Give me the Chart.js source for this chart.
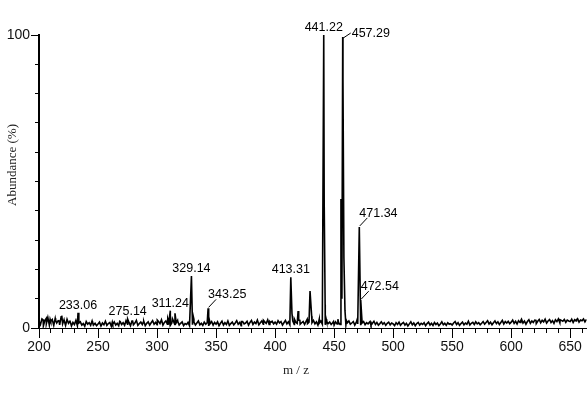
<!DOCTYPE html>
<html>
<head>
<meta charset="utf-8">
<title>Mass spectrum</title>
<script src="https://cdn.jsdelivr.net/npm/chart.js@4.4.1/dist/chart.umd.min.js"></script>
<style>
  html, body { margin: 0; padding: 0; background: #fff; }
  #wrap { width: 588px; height: 398px; }
</style>
</head>
<body>
<div id="wrap"><canvas id="c" width="588" height="398"></canvas></div>
<script>
// x range and ticks
var xMin = 200, xMax = 664;
var yTicksShown = [0, 100];

// baseline noise, one reading every 1.25 m/z from 200 (20 per row = 25 m/z)
var noiseStart = 200, noiseStep = 1.25;
var noiseAbund = [
  2.4, 1.2, 3.1, 0.8, 2.6, 1.5, 3.6, 1.0, 2.2, 2.9, 0.9, 3.3, 1.7, 2.5, 1.1, 3.8, 1.4, 2.7, 0.9, 3.0,
  1.6, 2.3, 0.7, 1.9, 1.2, 2.6, 0.8, 1.7, 2.1, 1.0, 1.5, 0.6, 2.2, 1.3, 1.8, 0.9, 2.4, 1.1, 1.6, 0.8,
  1.4, 2.0, 0.7, 1.7, 1.1, 2.3, 0.9, 1.5, 1.9, 0.6, 1.3, 2.1, 1.0, 1.6, 0.8, 2.2, 1.2, 1.8, 0.9, 2.5,
  1.3, 1.9, 0.8, 2.4, 1.1, 1.7, 2.6, 0.9, 1.5, 2.0, 1.2, 2.3, 0.8, 1.6, 2.1, 1.0, 1.8, 2.5, 1.3, 1.9,
  1.1, 2.2, 1.5, 2.8, 1.0, 1.9, 2.4, 1.3, 2.0, 0.9, 1.7, 2.5, 1.2, 1.8, 2.3, 1.0, 1.6, 2.1, 0.8, 1.5,
  1.2, 1.9, 0.8, 2.2, 1.4, 2.0, 1.0, 1.7, 2.4, 1.1, 1.6, 0.9, 2.0, 1.3, 1.8, 0.7, 1.5, 2.2, 1.0, 1.9,
  1.3, 2.1, 0.8, 1.6, 2.3, 1.0, 1.8, 1.2, 2.4, 0.9, 1.5, 2.0, 1.1, 1.7, 2.5, 1.3, 1.9, 0.8, 2.2, 1.4,
  1.7, 2.3, 1.0, 1.9, 2.6, 1.2, 2.0, 1.5, 2.7, 1.1, 1.8, 2.4, 1.3, 2.1, 1.6, 2.8, 1.2, 1.9, 2.3, 1.4,
  2.0, 1.3, 2.5, 1.7, 2.2, 1.0, 1.8, 2.6, 1.4, 2.1, 1.1, 1.9, 2.4, 1.2, 2.0, 1.6, 2.7, 1.3, 1.8, 2.2,
  1.2, 2.3, 1.5, 2.0, 1.1, 1.8, 2.6, 1.4, 2.1, 1.0, 1.7, 2.4, 1.3, 1.9, 1.1, 2.2, 1.5, 2.0, 1.2, 1.8,
  1.0, 2.1, 1.4, 1.9, 1.2, 2.3, 1.6, 2.0, 1.1, 1.8, 2.4, 1.3, 1.7, 2.2, 1.0, 1.9, 1.4, 2.1, 1.2, 1.7,
  2.2, 1.1, 1.8, 1.4, 2.0, 0.9, 1.6, 2.3, 1.2, 1.9, 1.0, 1.5, 2.1, 1.3, 1.8, 0.9, 1.6, 2.0, 1.1, 1.7,
  1.4, 0.8, 1.8, 1.2, 2.0, 0.9, 1.5, 1.9, 1.0, 1.6, 0.7, 1.4, 2.1, 1.1, 1.7, 0.8, 1.5, 1.9, 1.0, 1.6,
  1.2, 1.8, 0.8, 1.5, 2.0, 1.0, 1.6, 0.9, 1.9, 1.2, 1.7, 0.8, 1.4, 2.1, 1.1, 1.6, 0.9, 1.8, 1.3, 1.5,
  1.0, 1.7, 2.2, 1.2, 1.8, 0.9, 1.5, 2.0, 1.1, 1.7, 1.3, 2.3, 1.0, 1.6, 1.9, 1.2, 2.1, 1.4, 1.8, 1.1,
  1.6, 2.2, 1.3, 1.9, 2.5, 1.4, 2.0, 1.1, 1.8, 2.4, 1.5, 2.1, 1.2, 1.9, 2.6, 1.4, 2.2, 1.7, 2.3, 1.5,
  2.0, 2.7, 1.6, 2.3, 1.4, 2.5, 1.9, 3.0, 1.7, 2.4, 1.3, 2.2, 2.8, 1.6, 2.4, 1.9, 2.7, 1.5, 2.3, 2.9,
  1.8, 2.6, 2.1, 3.0, 1.7, 2.4, 2.9, 1.9, 2.5, 1.6, 2.8, 2.2, 3.1, 1.8, 2.6, 2.3, 2.9, 1.9, 2.7, 2.4,
  2.2, 3.0, 1.9, 2.8, 2.4, 3.2, 2.0, 2.7, 2.5, 3.1, 2.1, 2.9
];

// peaks
var peakMz = [203.5, 206.2, 209.4, 214.1, 217.0, 219.3, 221.2, 226.4, 233.06, 245.3,
  262.1, 268.4, 275.14, 279.3, 288.6, 300.2, 309.1, 311.24, 313.0, 315.2,
  317.4, 329.14, 330.1, 331.2, 343.25, 344.2, 371.5, 390.2, 395.6, 413.31,
  414.3, 416.4, 419.5, 421.0, 427.2, 429.6, 431.0, 437.4, 441.22, 441.6,
  442.4, 443.3, 449.5, 453.2, 455.8, 456.6, 457.29, 457.5, 458.3, 459.2,
  460.5, 469.6, 471.34, 472.54, 473.5, 480.5, 608.2, 621.0, 641.5, 655.3];
var peakAbund = [2.8, 3.3, 3.0, 2.6, 2.4, 4.2, 2.8, 2.2, 5.2, 2.0,
  2.0, 2.3, 3.0, 2.4, 2.2, 2.7, 3.2, 5.9, 3.2, 5.0,
  2.6, 17.7, 5.0, 3.0, 6.7, 3.0, 2.2, 2.6, 2.2, 17.3,
  5.0, 3.0, 5.8, 2.6, 3.0, 12.6, 4.0, 3.0, 100, 43,
  8, 3, 2.2, 3.0, 44, 10, 99.3, 85, 24, 6,
  2.5, 3, 34.5, 9.5, 3.2, 2.2, 2.6, 2.6, 2.8, 2.8];

// annotated peaks
var labelMz = [233.06, 275.14, 311.24, 329.14, 343.25, 413.31, 441.22, 457.29, 471.34, 472.54];
var labelText = ['233.06', '275.14', '311.24', '329.14', '343.25', '413.31', '441.22', '457.29', '471.34', '472.54'];

// how each label is placed (style only)
var labelMode = { '343.25': 'leader', '457.29': 'side', '471.34': 'leader', '472.54': 'leader' };

function buildPoints() {
  var pts = [];
  noiseAbund.forEach(function(v, i) {
    var mz = noiseStart + i * noiseStep;
    var near = peakMz.some(function(p, j) { return peakAbund[j] >= 10 && Math.abs(p - mz) < 0.7; });
    if (!near) pts.push({ x: mz, y: v });
  });
  peakMz.forEach(function(mz, i) { pts.push({ x: mz, y: peakAbund[i] }); });
  pts.sort(function(a, b) { return a.x - b.x; });
  return pts;
}

function abundAt(mz) {
  var i = peakMz.indexOf(mz);
  return i >= 0 ? peakAbund[i] : 0;
}

var annotate = {
  id: 'annotate',
  afterDatasetsDraw: function(chart) {
    var ctx = chart.ctx, xs = chart.scales.x, ys = chart.scales.y, area = chart.chartArea;
    ctx.save();
    ctx.strokeStyle = '#000';
    ctx.lineWidth = 1;
    // long ticks every 50 on x
    for (var v = xMin; v <= xMax; v += 10) {
      if (v % 50 !== 0) continue;
      var px = Math.round(xs.getPixelForValue(v)) + 0.5;
      ctx.beginPath(); ctx.moveTo(px, area.bottom); ctx.lineTo(px, area.bottom + 10); ctx.stroke();
    }
    // long ticks at 0 and 100 on y
    yTicksShown.forEach(function(t) {
      var py = Math.round(ys.getPixelForValue(t)) + 0.5;
      ctx.beginPath(); ctx.moveTo(area.left - 8, py); ctx.lineTo(area.left, py); ctx.stroke();
    });

    // peak labels
    ctx.fillStyle = '#000';
    ctx.font = '12.5px "Liberation Sans", Arial, sans-serif';
    labelMz.forEach(function(mz, i) {
      var txt = labelText[i];
      var px = xs.getPixelForValue(mz);
      var py = ys.getPixelForValue(abundAt(mz));
      var mode = labelMode[txt] || 'above';
      if (mode === 'above') {
        ctx.textAlign = 'center'; ctx.textBaseline = 'alphabetic';
        ctx.fillText(txt, px, py - 4);
      } else if (mode === 'leader') {
        ctx.beginPath(); ctx.moveTo(px + 0.5, py - 1); ctx.lineTo(px + 8, py - 9); ctx.stroke();
        ctx.textAlign = 'left'; ctx.textBaseline = 'alphabetic';
        ctx.fillText(txt, px, py - 10);
      } else {
        ctx.beginPath(); ctx.moveTo(px + 0.5, py + 1); ctx.lineTo(px + 8, py - 4); ctx.stroke();
        ctx.textAlign = 'left'; ctx.textBaseline = 'middle';
        ctx.fillText(txt, px + 9, py - 4);
      }
    });

    // axis titles
    ctx.fillStyle = '#222';
    ctx.font = '13px "Liberation Serif", "Times New Roman", serif';
    ctx.textAlign = 'center'; ctx.textBaseline = 'middle';
    ctx.fillText('m / z', 296, 371);
    ctx.translate(13, 165);
    ctx.rotate(-Math.PI / 2);
    ctx.fillText('Abundance (%)', 0, 0);
    ctx.restore();
  }
};

new Chart(document.getElementById('c'), {
  type: 'line',
  data: {
    datasets: [{
      data: buildPoints(),
      borderColor: '#000',
      borderWidth: 1.6,
      pointRadius: 0,
      tension: 0,
      fill: false
    }]
  },
  options: {
    responsive: false,
    animation: false,
    devicePixelRatio: 1,
    layout: { padding: { top: 35, right: 0, left: 0, bottom: 0 } },
    plugins: { legend: { display: false }, tooltip: { enabled: false }, title: { display: false } },
    scales: {
      x: {
        type: 'linear', min: xMin, max: xMax,
        border: { display: true, color: '#000', width: 1 },
        grid: { display: true, drawOnChartArea: false, drawTicks: true, tickLength: 5, color: '#000', tickColor: '#000' },
        ticks: {
          stepSize: 10, autoSkip: false, maxRotation: 0, includeBounds: false, padding: 6,
          color: '#111', font: { family: '"Liberation Sans", Arial, sans-serif', size: 14 },
          callback: function(v) { return v % 50 === 0 ? String(v) : ''; }
        },
        afterFit: function(s) { s.height = 70; }
      },
      y: {
        min: 0, max: 100,
        border: { display: true, color: '#000', width: 2 },
        grid: { display: true, drawOnChartArea: false, drawTicks: true, tickLength: 4, color: '#000', tickColor: '#000' },
        ticks: {
          stepSize: 10, autoSkip: false, padding: 5,
          color: '#111', font: { family: '"Liberation Sans", Arial, sans-serif', size: 14 },
          callback: function(v) { return yTicksShown.indexOf(v) >= 0 ? String(v) : ''; }
        },
        afterFit: function(s) { s.width = 39; }
      }
    }
  },
  plugins: [annotate]
});
</script>
</body>
</html>
